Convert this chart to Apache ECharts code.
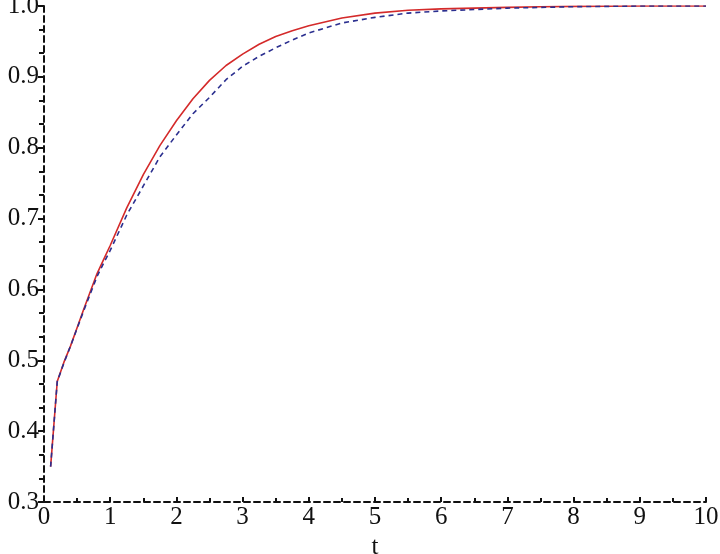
<!DOCTYPE html>
<html>
<head>
<meta charset="utf-8">
<script src="https://cdn.jsdelivr.net/npm/echarts@6/dist/echarts.min.js"></script>
<style>
html,body{margin:0;padding:0;background:#fff;}
#chart{width:720px;height:554px;}
</style>
</head>
<body>
<div id="chart"></div>
<script>
const tValues = [0.1, 0.2, 0.3, 0.4, 0.5, 0.6, 0.7, 0.8, 0.9, 1.0, 1.25, 1.5, 1.75, 2.0, 2.25, 2.5, 2.75, 3.0, 3.25, 3.5, 3.75, 4.0, 4.5, 5.0, 5.5, 6.0, 6.5, 7.0, 7.5, 8.0, 9.0, 10.0];
const redSeries = [0.35, 0.47, 0.497, 0.52, 0.546, 0.572, 0.597, 0.622, 0.642, 0.662, 0.715, 0.762, 0.803, 0.838, 0.869, 0.895, 0.916, 0.932, 0.946, 0.957, 0.965, 0.972, 0.983, 0.990, 0.994, 0.996, 0.997, 0.998, 0.999, 0.9995, 1.0, 1.0];
const blueSeries = [0.35, 0.47, 0.496, 0.52, 0.545, 0.57, 0.594, 0.618, 0.637, 0.655, 0.705, 0.746, 0.787, 0.818, 0.848, 0.871, 0.896, 0.915, 0.929, 0.941, 0.952, 0.962, 0.976, 0.984, 0.99, 0.993, 0.995, 0.997, 0.998, 0.999, 1.0, 1.0];
const xTicks = [0,1,2,3,4,5,6,7,8,9,10];
const yTicks = [0.3,0.4,0.5,0.6,0.7,0.8,0.9,1.0];

const chart = echarts.init(document.getElementById('chart'), null, {renderer:'canvas'});
const font = 'Liberation Serif, Times New Roman, serif';
chart.setOption({
  animation: false,
  backgroundColor: '#fff',
  grid: {left: 44, right: 14, top: 6, bottom: 52, containLabel: false, outerBoundsMode: 'none'},
  xAxis: {
    type: 'value', min: 0, max: 10, interval: 1,
    name: 't', nameLocation: 'middle', nameGap: 33,
    nameTextStyle: {fontFamily: font, fontSize: 25, color: '#111'},
    axisLine: {show: true, onZero: false, lineStyle: {color: '#111', width: 2, type: [6,4]}},
    axisTick: {show: true, inside: true, length: 5, lineStyle: {color: '#111', width: 2}},
    minorTick: {show: true, splitNumber: 2, length: 4, lineStyle: {color: '#111', width: 2}},
    axisLabel: {fontFamily: font, fontSize: 25, color: '#111', margin: 3,
      formatter: v => xTicks.includes(v) ? String(v) : ''},
    splitLine: {show: false}
  },
  yAxis: {
    type: 'value', min: 0.3, max: 1.0, interval: 0.1,
    axisLine: {show: true, onZero: false, lineStyle: {color: '#111', width: 2, type: [6,4]}},
    axisTick: {show: true, inside: false, length: 6, lineStyle: {color: '#111', width: 2}},
    minorTick: {show: true, splitNumber: 3, length: 5, lineStyle: {color: '#111', width: 2}},
    axisLabel: {fontFamily: font, fontSize: 25, color: '#111', margin: 5,
      formatter: v => { const r = Math.round(v*10)/10; return yTicks.includes(r) ? r.toFixed(1) : ''; }},
    splitLine: {show: false}
  },
  series: [
    {
      type: 'line', name: 'red', showSymbol: false, smooth: false,
      data: tValues.map((t,i) => [t, redSeries[i]]),
      lineStyle: {color: '#d42a2a', width: 1.6}, z: 3
    },
    {
      type: 'line', name: 'blue', showSymbol: false, smooth: false,
      data: tValues.map((t,i) => [t, blueSeries[i]]),
      lineStyle: {color: '#2b2f8f', width: 1.6, type: [5,4]}, z: 4
    }
  ]
});
</script>
</body>
</html>
